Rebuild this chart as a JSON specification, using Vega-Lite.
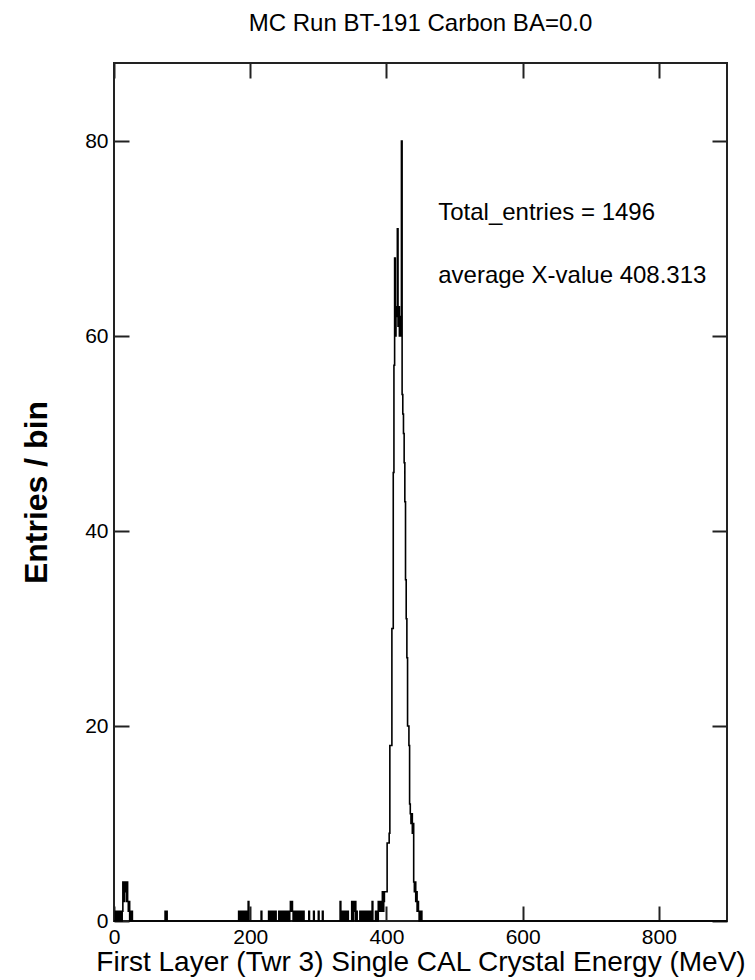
{
  "$schema": "https://vega.github.io/schema/vega-lite/v6.json",
  "width": 613,
  "height": 858,
  "autosize": {"type": "none"},
  "padding": {"left": 114, "top": 63, "right": 28, "bottom": 59},
  "background": "white",
  "title": {"text": "MC Run BT-191 Carbon BA=0.0", "anchor": "middle", "font": "Liberation Sans Narrow, Liberation Sans", "fontSize": 24, "fontWeight": "normal", "color": "black", "offset": 26},
  "config": {
    "view": {"stroke": "#222222", "strokeWidth": 2},
    "axis": {"domain": false, "grid": false, "tickColor": "#222222", "tickWidth": 2, "labelColor": "black", "labelFont": "Liberation Sans", "labelFontSize": 22, "titleColor": "black", "titleFont": "Liberation Sans"}
  },
  "datasets": {
    "hist": [
      {"e":0,"n":0},{"e":2,"n":1},{"e":3,"n":0},{"e":4,"n":1},{"e":5,"n":0},{"e":6,"n":1},{"e":7,"n":0},{"e":8,"n":1},{"e":9,"n":0},{"e":10,"n":1},{"e":11,"n":0},{"e":12,"n":1},
      {"e":13,"n":4},{"e":14,"n":2},{"e":15,"n":4},{"e":16,"n":3},{"e":17,"n":4},{"e":18,"n":2},{"e":19,"n":4},{"e":20,"n":2},{"e":21,"n":1},{"e":22,"n":2},{"e":23,"n":0},{"e":24,"n":1},{"e":25,"n":0},{"e":26,"n":1},{"e":27,"n":0},
      {"e":75,"n":1},{"e":76,"n":0},{"e":77,"n":1},{"e":78,"n":0},
      {"e":183,"n":1},{"e":184,"n":0},{"e":185,"n":1},{"e":186,"n":0},{"e":187,"n":1},{"e":188,"n":0},{"e":189,"n":1},{"e":190,"n":0},{"e":191,"n":1},{"e":192,"n":0},{"e":193,"n":1},{"e":194,"n":0},{"e":195,"n":1},{"e":196,"n":0},{"e":197,"n":2},{"e":198,"n":0},
      {"e":216,"n":1},{"e":217,"n":0},
      {"e":227,"n":1},{"e":228,"n":0},{"e":229,"n":1},{"e":230,"n":0},{"e":231,"n":1},{"e":232,"n":0},{"e":233,"n":1},{"e":234,"n":0},{"e":235,"n":1},{"e":236,"n":0},{"e":237,"n":1},{"e":238,"n":0},
      {"e":242,"n":1},{"e":243,"n":0},{"e":244,"n":1},{"e":245,"n":0},{"e":246,"n":1},{"e":247,"n":0},{"e":248,"n":1},{"e":249,"n":0},{"e":250,"n":1},{"e":251,"n":0},{"e":252,"n":1},{"e":253,"n":0},{"e":254,"n":1},{"e":255,"n":0},{"e":256,"n":1},{"e":257,"n":0},{"e":258,"n":1},{"e":259,"n":2},{"e":260,"n":1},{"e":261,"n":2},{"e":262,"n":1},{"e":263,"n":0},
      {"e":264,"n":1},{"e":265,"n":0},{"e":266,"n":1},{"e":267,"n":0},{"e":268,"n":1},{"e":269,"n":0},{"e":270,"n":1},{"e":271,"n":0},{"e":272,"n":1},{"e":273,"n":0},{"e":274,"n":1},{"e":275,"n":0},{"e":276,"n":1},{"e":277,"n":0},{"e":278,"n":1},{"e":279,"n":0},
      {"e":286,"n":1},{"e":287,"n":0},{"e":293,"n":1},{"e":294,"n":0},{"e":300,"n":1},{"e":301,"n":0},{"e":306,"n":1},{"e":307,"n":0},
      {"e":332,"n":2},{"e":333,"n":0},{"e":334,"n":1},{"e":335,"n":0},{"e":336,"n":1},{"e":337,"n":0},{"e":339,"n":1},{"e":340,"n":0},{"e":341,"n":1},{"e":342,"n":0},{"e":343,"n":1},{"e":344,"n":0},
      {"e":349,"n":2},{"e":350,"n":1},{"e":351,"n":0},{"e":352,"n":2},{"e":353,"n":1},{"e":354,"n":2},{"e":355,"n":0},{"e":356,"n":1},{"e":357,"n":0},
      {"e":361,"n":1},{"e":362,"n":0},{"e":363,"n":1},{"e":364,"n":0},{"e":365,"n":1},{"e":366,"n":0},{"e":367,"n":1},{"e":368,"n":0},{"e":369,"n":1},{"e":370,"n":0},{"e":371,"n":1},{"e":372,"n":0},{"e":373,"n":1},{"e":374,"n":0},{"e":375,"n":1},{"e":376,"n":0},{"e":377,"n":1},{"e":378,"n":0},{"e":379,"n":2},{"e":380,"n":0},
      {"e":384,"n":1},{"e":385,"n":0},{"e":386,"n":1},{"e":387,"n":0},{"e":388,"n":2},{"e":389,"n":1},{"e":390,"n":2},{"e":391,"n":1},{"e":392,"n":2},{"e":393,"n":1},{"e":394,"n":3},{"e":395,"n":1},{"e":396,"n":2},{"e":397,"n":3},{"e":398,"n":3},{"e":399,"n":3},{"e":400,"n":3},
      {"e":401,"n":8},{"e":402,"n":8},{"e":403,"n":8},{"e":404,"n":9},{"e":405,"n":18},{"e":406,"n":18},{"e":407,"n":18},{"e":408,"n":30},{"e":409,"n":30},{"e":410,"n":46},
      {"e":411,"n":57},{"e":412,"n":68},{"e":413,"n":60},{"e":414,"n":63},{"e":415,"n":62},{"e":416,"n":71},{"e":417,"n":61},{"e":418,"n":63},{"e":419,"n":60},{"e":420,"n":62},
      {"e":421,"n":60},{"e":422,"n":80},{"e":423,"n":54},{"e":424,"n":52},{"e":425,"n":50},{"e":426,"n":47},{"e":427,"n":43},{"e":428,"n":35},{"e":429,"n":31},{"e":430,"n":27},
      {"e":431,"n":20},{"e":432,"n":20},{"e":433,"n":18},{"e":434,"n":12},{"e":435,"n":11},{"e":436,"n":10},{"e":437,"n":11},{"e":438,"n":9},{"e":439,"n":10},{"e":440,"n":4},
      {"e":441,"n":3},{"e":442,"n":4},{"e":443,"n":2},{"e":444,"n":3},{"e":445,"n":1},{"e":446,"n":2},{"e":447,"n":1},{"e":448,"n":0},{"e":449,"n":1},{"e":450,"n":0},{"e":451,"n":1},{"e":452,"n":0},
      {"e":900,"n":0}
    ],
    "stats": [
      {"x": 476, "y": 71.9, "t": "Total_entries = 1496"},
      {"x": 476, "y": 65.4, "t": "average X-value 408.313"}
    ]
  },
  "layer": [
    {
      "data": {"name": "hist"},
      "mark": {"type": "line", "interpolate": "step-after", "color": "black", "strokeWidth": 1.6},
      "encoding": {
        "x": {"field": "e", "type": "quantitative", "scale": {"domain": [0, 900], "nice": false, "zero": false},
              "axis": {"orient": "bottom", "values": [0, 200, 400, 600, 800], "tickSize": -15, "labelPadding": 20, "labelFlush": false, "labelFontSize": 21,
                       "title": "First Layer (Twr 3) Single CAL Crystal Energy (MeV)", "titleFontSize": 28, "titleFontWeight": "normal", "titlePadding": 1}},
        "y": {"field": "n", "type": "quantitative", "scale": {"domain": [0, 88], "nice": false},
              "axis": {"orient": "left", "values": [0, 20, 40, 60, 80], "tickSize": -15, "labelPadding": 21, "labelFontSize": 21,
                       "title": "Entries / bin", "titleFontSize": 32, "titleFontWeight": "bold", "titlePadding": 31}}
      }
    },
    {
      "data": {"name": "stats"},
      "mark": {"type": "text", "align": "left", "baseline": "alphabetic", "font": "Liberation Sans", "fontSize": 24, "color": "black"},
      "encoding": {
        "x": {"field": "x", "type": "quantitative", "scale": {"domain": [0, 900], "nice": false, "zero": false},
              "axis": {"orient": "top", "values": [0, 200, 400, 600, 800], "tickSize": -15, "labels": false, "title": null}},
        "y": {"field": "y", "type": "quantitative", "scale": {"domain": [0, 88], "nice": false},
              "axis": {"orient": "right", "values": [0, 20, 40, 60, 80], "tickSize": -15, "labels": false, "title": null}},
        "text": {"field": "t", "type": "nominal"}
      }
    }
  ],
  "resolve": {"axis": {"x": "independent", "y": "independent"}}
}
